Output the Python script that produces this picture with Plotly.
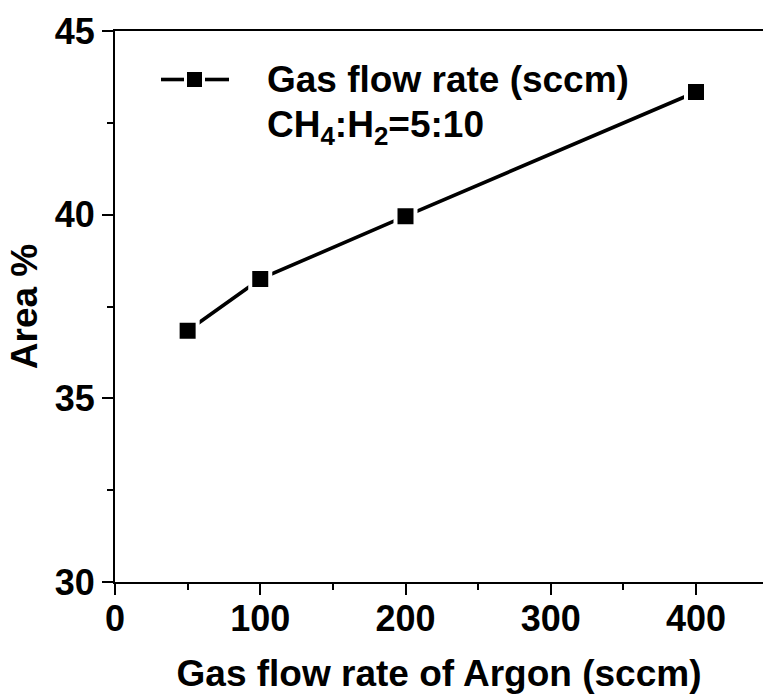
import plotly.graph_objects as go

# Argon flow rate (sccm) and measured area fraction (%)
argon_flow = [50, 100, 200, 400]
area_pct = [36.84, 38.25, 39.96, 43.34]

x_ticks = [0, 100, 200, 300, 400]
y_ticks = [30, 35, 40, 45]

FONT = "Liberation Sans, Arial, sans-serif"

fig = go.Figure()
fig.add_trace(go.Scatter(
    x=argon_flow, y=area_pct, mode="lines+markers",
    line=dict(color="black", width=3.6),
    marker=dict(symbol="square", size=20, color="black",
                line=dict(color="white", width=4)),
    showlegend=False, cliponaxis=False,
))

W, H = 763, 694
L, R, T, B = 115, 0, 31, 112
pw, ph = W - L - R, H - T - B


def px(x):
    return (x - L) / pw


def py(y):
    return 1 - (y - T) / ph


# hand-drawn legend sample: line - square - line
ly = py(79.5)
fig.add_shape(type="line", xref="paper", yref="paper", x0=px(161), x1=px(184), y0=ly, y1=ly,
              line=dict(color="black", width=3.6))
fig.add_shape(type="line", xref="paper", yref="paper", x0=px(205), x1=px(229), y0=ly, y1=ly,
              line=dict(color="black", width=3.6))
fig.add_shape(type="rect", xref="paper", yref="paper", x0=px(187), x1=px(202), y0=py(72), y1=py(87),
              fillcolor="black", line=dict(width=0))

fig.add_annotation(xref="paper", yref="paper", x=px(265), y=py(79), xanchor="left", yanchor="middle",
                   text="Gas flow rate (sccm)", showarrow=False,
                   font=dict(family=FONT, size=37, color="black", weight="bold"))
fig.add_annotation(xref="paper", yref="paper", x=px(265), y=py(127), xanchor="left", yanchor="middle",
                   text="CH<sub>4</sub>:H<sub>2</sub>=5:10", showarrow=False,
                   font=dict(family=FONT, size=37, color="black", weight="bold"))

axis_common = dict(
    showline=True, linecolor="black", linewidth=2,
    ticks="outside", tickcolor="black", tickwidth=2, ticklen=11,
    showgrid=False, zeroline=False,
    tickfont=dict(family=FONT, size=36, color="black", weight="bold"),
    title_font=dict(family=FONT, size=37, color="black", weight="bold"),
)

fig.update_xaxes(
    range=[0, (W - L) / 145.25 * 100], tickvals=x_ticks, mirror=True,
    minor=dict(dtick=50, ticks="outside", ticklen=6, tickwidth=2, tickcolor="black", tick0=0),
    title_text="Gas flow rate of Argon (sccm)", title_standoff=22,
    ticklabelstandoff=-7,
    **axis_common,
)
fig.update_yaxes(
    range=[30, 45], tickvals=y_ticks,
    minor=dict(dtick=2.5, ticks="outside", ticklen=6, tickwidth=2, tickcolor="black", tick0=30),
    title_text="Area %", title_standoff=6,
    **axis_common,
)

fig.update_layout(
    width=W, height=H,
    margin=dict(l=L, r=R, t=T, b=B),
    plot_bgcolor="white", paper_bgcolor="white",
    font=dict(family=FONT, color="black"),
)

fig.write_html("out.html")
